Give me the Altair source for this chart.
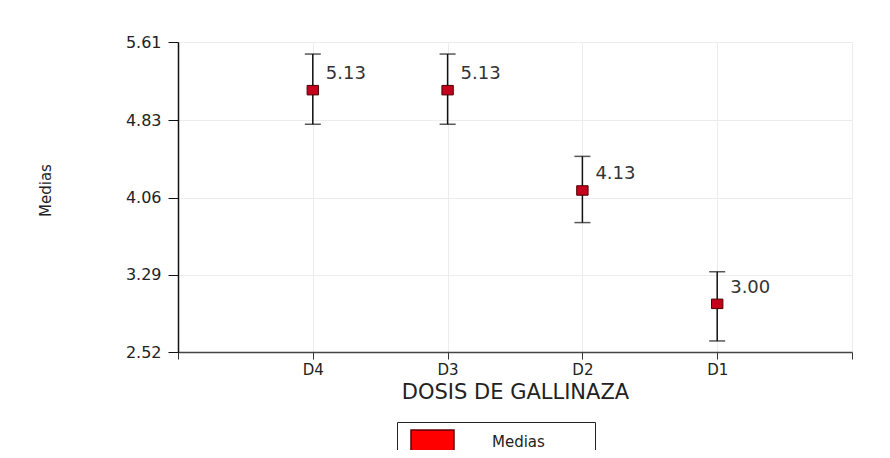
import altair as alt
import pandas as pd

categories = ["D4", "D3", "D2", "D1"]
positions = [1, 2, 3, 4]
means = [5.13, 5.13, 4.13, 3.00]
lower = [4.79, 4.79, 3.81, 2.63]
upper = [5.49, 5.49, 4.47, 3.32]
y_ticks = [2.52, 3.29, 4.06, 4.83, 5.61]
series = ["Medias"] * 4

df = pd.DataFrame({
    "cat": categories, "pos": positions, "mean": means,
    "lo": lower, "hi": upper, "serie": series,
})
df["lbl"] = [f"{m:.2f}" for m in means]

FONT = "DejaVu Sans"
label_expr = "datum.value==1?'D4':datum.value==2?'D3':datum.value==3?'D2':datum.value==4?'D1':''"

x = alt.X("pos:Q", scale=alt.Scale(domain=[0, 5], nice=False, zero=False),
          axis=alt.Axis(values=[0, 1, 2, 3, 4, 5], labelExpr=label_expr,
                        title="DOSIS DE GALLINAZA", titleFontSize=21,
                        titleFont=FONT, labelFont=FONT,
                        titleFontWeight="normal", titleColor="#222",
                        titlePadding=4, labelFontSize=15, labelColor="#222",
                        labelPadding=3, tickSize=7, tickColor="#333",
                        domainColor="#444", domainWidth=1.5,
                        gridColor="#ececec", grid=True))
y = alt.Y("mean:Q", scale=alt.Scale(domain=[2.52, 5.61], nice=False, zero=False),
          axis=alt.Axis(values=y_ticks, format=".2f", title="Medias",
                        titleFont=FONT, labelFont=FONT,
                        titleFontSize=15, titleFontWeight="normal", titleColor="#222",
                        titleX=-133, titleY=148, titleAngle=270, titleBaseline="middle",
                        titleAlign="center",
                        labelFontSize=16, labelColor="#222", labelPadding=7,
                        tickSize=10, tickColor="#111", domainColor="#111",
                        domainWidth=1.5, gridColor="#ececec", grid=True))

base = alt.Chart(df)

rule = base.mark_rule(color="#111", strokeWidth=1.5).encode(
    x=x, y=alt.Y("lo:Q"), y2="hi:Q")
cap_lo = base.mark_tick(orient="horizontal", color="#111", size=16, thickness=1.5).encode(
    x=x, y=alt.Y("lo:Q"))
cap_hi = base.mark_tick(orient="horizontal", color="#111", size=16, thickness=1.5).encode(
    x=x, y=alt.Y("hi:Q"))

pts = base.mark_point(shape="M-1.2,-1H1.2V1H-1.2Z", filled=True, size=90, opacity=1,
                      fill="#c4001c", stroke="#4a0000", strokeWidth=1).encode(x=x, y=y)

pad_expr = "datum.label + '" + "\u00a0" * 9 + "\u200b'"

legend_layer = base.mark_point(shape="square", filled=True, size=0, opacity=0).encode(
    x=x, y=y,
    fill=alt.Fill("serie:N",
                  scale=alt.Scale(domain=["Medias"], range=["#ff0000"]),
                  legend=alt.Legend(
                      title=None, orient="none", legendX=219, legendY=380,
                      direction="vertical", strokeColor="#222", padding=7,
                      symbolType="M-0.48,-1H3.26V1H-0.48Z", symbolSize=529,
                      symbolStrokeColor="#600000", symbolStrokeWidth=1.5,
                      symbolOpacity=1,
                      labelFont=FONT, labelLimit=300,
                      labelFontSize=15, labelColor="#222", labelOffset=63,
                      labelExpr=pad_expr)))

txt = base.mark_text(align="left", baseline="middle", dx=13, dy=-16,
                     fontSize=18, color="#333", font=FONT).encode(
    x=x, y=y, text="lbl:N")

chart = alt.layer(rule, cap_lo, cap_hi, pts, txt, legend_layer).properties(
    width=674, height=310,
    autosize=alt.AutoSizeParams(type="none"),
    padding={"left": 170, "top": 34, "right": 30, "bottom": 98},
).configure(font=FONT).configure_view(stroke=None)

chart.save("out.html", embed_options={"renderer": "svg", "actions": False})
